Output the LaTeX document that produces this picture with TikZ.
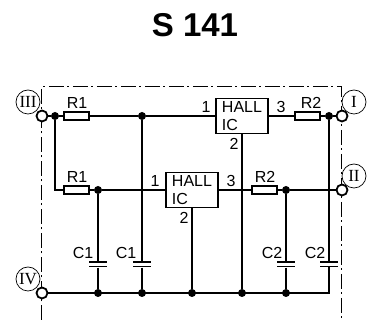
\documentclass[tikz,border=0pt]{standalone}
\usepackage{fontspec}
\setmainfont{Liberation Sans}
\newfontfamily\romanfont{Liberation Serif}
\tikzset{
  wire/.style={line width=1.8pt},
  frameline/.style={line width=1pt,dash pattern=on 15pt off 3.5pt on 2pt off 3.5pt},
  jdot/.style={circle,fill,inner sep=0pt,minimum size=8pt},
  term/.style={circle,draw,fill=white,line width=1.8pt,inner sep=0pt,minimum size=11pt},
  tag/.style={circle,draw,fill=white,line width=0.7pt,inner sep=0pt,minimum size=24pt,font=\romanfont\fontsize{17}{17}\selectfont},
  res/.style={rectangle,draw,fill=white,line width=1.6pt,inner sep=0pt,minimum width=25pt,minimum height=8pt},
  hall/.style={rectangle,draw,fill=white,line width=1.6pt,inner sep=0pt,minimum width=52pt,minimum height=35pt,align=left,font=\fontsize{16}{17.5}\selectfont},
  plate/.style={rectangle,fill,inner sep=0pt,minimum width=18pt,minimum height=1.8pt},
  lab/.style={inner sep=0pt,font=\fontsize{16}{17}\selectfont}
}
\begin{document}
\begin{tikzpicture}[x=1pt,y=-1pt]
            \useasboundingbox (0,0) rectangle (368,320);
            % dash-dot frame
            \coordinate (FA) at (42,320);
            \coordinate (FB) at (42,87);
            \coordinate (FC) at (342,87);
            \coordinate (FD) at (342,320);
            \draw[frameline] (FA) -- (FB) -- (FC) -- (FD);

            % title
            \node (title) at (195,25) [inner sep=0pt,font=\bfseries\fontsize{33}{33}\selectfont]{S 141};

            % terminals
            \node (T3) at (42,116) [term]{};
            \node (T1) at (342,116) [term]{};
            \node (T2) at (342,190) [term]{};
            \node (T4) at (42,293) [term]{};
            \node (L3) at (28,102) [tag]{III};
            \node (L1) at (354,102) [tag]{I};
            \node (L2) at (354,176) [tag]{II};
            \node (L4) at (28,279) [tag]{IV};

            % junctions
            \node (J1) at (55,116) [jdot]{};
            \node (J2) at (142,116) [jdot]{};
            \node (J3) at (329,116) [jdot]{};
            \node (J4) at (98,190) [jdot]{};
            \node (J5) at (286,190) [jdot]{};
            \node (J6) at (98,293) [jdot]{};
            \node (J7) at (142,293) [jdot]{};
            \node (J8) at (192,293) [jdot]{};
            \node (J9) at (242,293) [jdot]{};
            \node (J10) at (286,293) [jdot]{};
            \coordinate (K1) at (55,190);
            \coordinate (K2) at (329,293);

            % parts
            \node (R1a) at (76.5,116) [res]{};
            \node (R2a) at (307.5,116) [res]{};
            \node (R1b) at (76.5,190) [res]{};
            \node (R2b) at (264.5,190) [res]{};
            \node (U1) at (242,116) [hall]{HALL\\IC};
            \node (U2) at (192,190) [hall]{HALL\\IC};
            \node (C1at) at (98,262) [plate]{};
            \node (C1ab) at (98,266.5) [plate]{};
            \node (C1bt) at (142,262) [plate]{};
            \node (C1bb) at (142,266.5) [plate]{};
            \node (C2at) at (286,262) [plate]{};
            \node (C2ab) at (286,266.5) [plate]{};
            \node (C2bt) at (329,262) [plate]{};
            \node (C2bb) at (329,266.5) [plate]{};

            % top row
            \draw[wire] (T3) -- (J1) -- (R1a) -- (J2) -- (U1);
            \draw[wire] (U1) -- (R2a) -- (J3) -- (T1);

            % middle row
            \draw[wire] (J1) -- (K1) -- (R1b) -- (J4) -- (U2);
            \draw[wire] (U2) -- (R2b) -- (J5) -- (T2);

            % bottom row
            \draw[wire,line cap=rect] (T4) -- (J6) -- (J7) -- (J8) -- (J9) -- (J10) -- (K2);

            % verticals
            \draw[wire] (J4) -- (C1at);
            \draw[wire] (C1ab) -- (J6);
            \draw[wire] (J2) -- (C1bt);
            \draw[wire] (C1bb) -- (J7);
            \draw[wire] (U2) -- (J8);
            \draw[wire] (U1) -- (J9);
            \draw[wire] (J5) -- (C2at);
            \draw[wire] (C2ab) -- (J10);
            \draw[wire] (J3) -- (C2bt);
            \draw[wire,line cap=rect] (C2bb) -- (K2);

            % labels
            \node (tR1a) at (77,103) [lab]{R1};
            \node (tR1b) at (77,177) [lab]{R1};
            \node (tR2a) at (311,103) [lab]{R2};
            \node (tR2b) at (265,177) [lab]{R2};
            \node (tC1a) at (83,253) [lab]{C1};
            \node (tC1b) at (126,253) [lab]{C1};
            \node (tC2a) at (272,253) [lab]{C2};
            \node (tC2b) at (315,253) [lab]{C2};
            \node (pA) at (206,107) [lab]{1};
            \node (pB) at (281,107) [lab]{3};
            \node (pC) at (234,144) [lab]{2};
            \node (pD) at (155,181) [lab]{1};
            \node (pE) at (231,181) [lab]{3};
            \node (pF) at (184,218) [lab]{2};
\end{tikzpicture}
\end{document}
